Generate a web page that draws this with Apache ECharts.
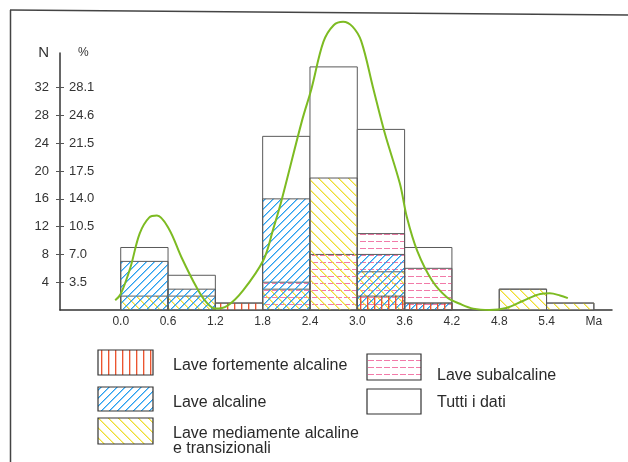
<!DOCTYPE html>
<html>
<head>
<meta charset="utf-8">
<script src="https://cdn.jsdelivr.net/npm/echarts@6/dist/echarts.min.js"></script>
<style>
html,body{margin:0;padding:0;background:#fff;}
#chart{width:628px;height:462px;}
</style>
</head>
<body>
<div id="chart"></div>
<script>
// ---------- data ----------
var binStarts = [0.0, 0.6, 1.2, 1.8, 2.4, 3.0, 3.6, 4.2, 4.8, 5.4];
var binWidth = 0.6;
var tuttiData      = [9, 5, 1, 25, 35, 26, 9, 0, 3, 1];
var fortementeData = [0, 0, 1, 0, 0, 2, 1, 0, 0, 0];
var alcalineData   = [7, 3, 0, 16, 0, 8, 1, 0, 0, 0];
var mediamenteData = [2, 2, 0, 3, 19, 5.5, 0, 0, 3, 1];
var subalcalineData= [0, 0, 0, 4, 8, 11, 6, 0, 0, 0];

var curveX = [-0.07, 0.0, 0.12, 0.24, 0.36, 0.46, 0.61, 0.77, 0.96, 1.08, 1.2, 1.35, 1.55, 1.81, 1.93, 2.04, 2.30, 2.42, 2.57, 2.70, 2.82, 2.94, 3.05, 3.20, 3.35, 3.54, 3.63, 3.76, 3.95, 4.14, 4.30, 4.47, 4.68, 4.89, 5.10, 5.32, 5.44, 5.57, 5.67];
var curveY = [1.4, 2.3, 6.0, 11.0, 13.3, 13.6, 11.7, 7.6, 3.3, 1.2, 0.2, 0.6, 2.8, 7.2, 11.5, 15.8, 27.3, 31.9, 38.6, 41.0, 41.5, 40.8, 38.7, 32.0, 25.4, 18.2, 13.3, 8.5, 4.2, 1.8, 0.9, 0.2, 0.0, 0.3, 1.3, 2.3, 2.4, 2.1, 1.7];

var nTicks = [4, 8, 12, 16, 20, 24, 28, 32];
var pctTicks = ['3.5', '7.0', '10.5', '14.0', '17.5', '21.5', '24.6', '28.1'];
var xTicks = [0.0, 0.6, 1.2, 1.8, 2.4, 3.0, 3.6, 4.2, 4.8, 5.4, 6.0];
var xLastLabel = 'Ma';

var legendNames = ['Lave fortemente alcaline', 'Lave alcaline', 'Lave mediamente alcaline\ne transizionali', 'Lave subalcaline', 'Tutti i dati'];

// ---------- patterns ----------
function tile(w, h, draw) {
  var c = document.createElement('canvas');
  c.width = w; c.height = h;
  var ctx = c.getContext('2d');
  draw(ctx, w, h);
  return {image: c, repeat: 'repeat'};
}
var redPat = tile(7, 7, function (ctx, w, h) {
  ctx.fillStyle = '#ec5530';
  ctx.fillRect(3, 0, 1, h);
  ctx.fillStyle = 'rgba(236,85,48,0.35)';
  ctx.fillRect(4, 0, 1, h);
});
var bluePat = tile(8, 8, function (ctx, w, h) {
  for (var i = 0; i < w; i++) {
    ctx.fillStyle = 'rgba(40,160,240,1)';
    ctx.fillRect(i, h - 1 - i, 1, 1);
    ctx.fillStyle = 'rgba(40,160,240,0.55)';
    ctx.fillRect((i + 1) % w, h - 1 - i, 1, 1);
  }
});
var yellowPat = tile(10, 10, function (ctx, w, h) {
  for (var i = 0; i < w; i++) {
    ctx.fillStyle = 'rgba(240,222,50,1)';
    ctx.fillRect(i, i, 1, 1);
    ctx.fillStyle = 'rgba(240,222,50,0.5)';
    ctx.fillRect((i + 1) % w, i, 1, 1);
  }
});
var pinkPat = tile(8, 7, function (ctx, w, h) {
  ctx.fillStyle = '#f27aa8';
  ctx.fillRect(0, 3, 6, 1);
});
var whiteFill = '#ffffff';
var edge = '#5a5a5a';

function histSeries(name, values, fill, z) {
  var data = [];
  for (var i = 0; i < binStarts.length; i++) {
    if (values[i] > 0) data.push([binStarts[i], binStarts[i] + binWidth, values[i]]);
  }
  return {
    type: 'custom', name: name, z: z,
    xAxisIndex: 0, yAxisIndex: 0,
    encode: {x: [0, 1], y: 2},
    data: data,
    renderItem: function (params, api) {
      var p0 = api.coord([api.value(0), 0]);
      var p1 = api.coord([api.value(1), api.value(2)]);
      return {
        type: 'rect',
        shape: {x: p0[0], y: p1[1], width: p1[0] - p0[0], height: p0[1] - p1[1]},
        style: {fill: fill, stroke: edge, lineWidth: 1}
      };
    }
  };
}

var font = '"Liberation Sans", Arial, sans-serif';
var chart = echarts.init(document.getElementById('chart'), null, {renderer: 'canvas'});

function legendItem(x, y, w, h, fill, tx, ty, text) {
  return [
    {type: 'rect', shape: {x: x, y: y, width: w, height: h}, style: {fill: fill, stroke: '#333', lineWidth: 1.2}, z: 10},
    {type: 'text', x: tx, y: ty, style: {text: text, font: '16px ' + font, fill: '#2a2a2a', verticalAlign: 'middle', lineHeight: 15}, z: 10}
  ];
}

var graphics = [].concat(
  [{type: 'line', shape: {x1: 10, y1: 10, x2: 628, y2: 15}, style: {stroke: '#444', lineWidth: 1.5}},
   {type: 'line', shape: {x1: 10.5, y1: 10, x2: 10.5, y2: 462}, style: {stroke: '#444', lineWidth: 1.5}}],
  legendItem(98, 350, 55, 25, redPat, 173, 366, legendNames[0]),
  legendItem(98, 387, 55, 24, bluePat, 173, 403, legendNames[1]),
  legendItem(98, 418, 55, 26, yellowPat, 173, 441, legendNames[2]),
  legendItem(367, 354, 54, 26, pinkPat, 437, 376, legendNames[3]),
  legendItem(367, 389, 54, 25, whiteFill, 437, 403, legendNames[4])
);

var option = {
  backgroundColor: '#fff',
  animation: false,
  grid: {left: 60, right: 16, top: 53, bottom: 152, containLabel: false},
  xAxis: [{
    type: 'value', min: -0.77, max: 6.23,
    splitLine: {show: false},
    axisLine: {show: true, onZero: false, lineStyle: {color: '#333', width: 1.5}},
    axisTick: {show: false},
    axisLabel: {
      customValues: xTicks, margin: 6,
      color: '#333', fontSize: 12, fontFamily: font,
      formatter: function (v) { return Math.abs(v - 6) < 1e-6 ? xLastLabel : v.toFixed(1); }
    }
  }],
  yAxis: [{
    type: 'value', min: 0, max: 37, position: 'left',
    name: 'N', nameLocation: 'end', nameGap: 0,
    nameTextStyle: {fontSize: 15, color: '#333', fontFamily: font, align: 'right', verticalAlign: 'middle', padding: [0, 11, 0, 0]},
    splitLine: {show: false},
    axisLine: {show: true, onZero: false, lineStyle: {color: '#333', width: 1.5}},
    axisTick: {show: true, customValues: nTicks, length: 4, lineStyle: {color: '#555'}},
    axisLabel: {customValues: nTicks, margin: 11, color: '#333', fontSize: 13, fontFamily: font}
  }, {
    type: 'value', min: 0, max: 37, position: 'left',
    name: '%', nameLocation: 'end', nameGap: 0,
    nameTextStyle: {fontSize: 12, color: '#333', fontFamily: font, align: 'left', verticalAlign: 'middle', padding: [4, 0, 0, 18]},
    splitLine: {show: false},
    axisLine: {show: false, onZero: false},
    axisTick: {show: true, inside: true, customValues: nTicks, length: 4, lineStyle: {color: '#555'}},
    axisLabel: {
      customValues: nTicks, inside: true, margin: 9, color: '#333', fontSize: 13, fontFamily: font,
      formatter: function (v) { var i = nTicks.indexOf(v); return i >= 0 ? pctTicks[i] : ''; }
    }
  }],
  graphic: graphics,
  series: [
    histSeries(legendNames[4], tuttiData, whiteFill, 2),
    histSeries(legendNames[3], subalcalineData, pinkPat, 3),
    histSeries(legendNames[2], mediamenteData, yellowPat, 4),
    histSeries(legendNames[1], alcalineData, bluePat, 5),
    histSeries(legendNames[0], fortementeData, redPat, 6),
    {
      type: 'line', name: 'curve', z: 8, clip: false,
      xAxisIndex: 0, yAxisIndex: 0,
      smooth: 0.35, symbol: 'none',
      lineStyle: {color: '#7dbb22', width: 2},
      data: curveX.map(function (x, i) { return [x, curveY[i]]; })
    }
  ]
};
chart.setOption(option);
</script>
</body>
</html>
